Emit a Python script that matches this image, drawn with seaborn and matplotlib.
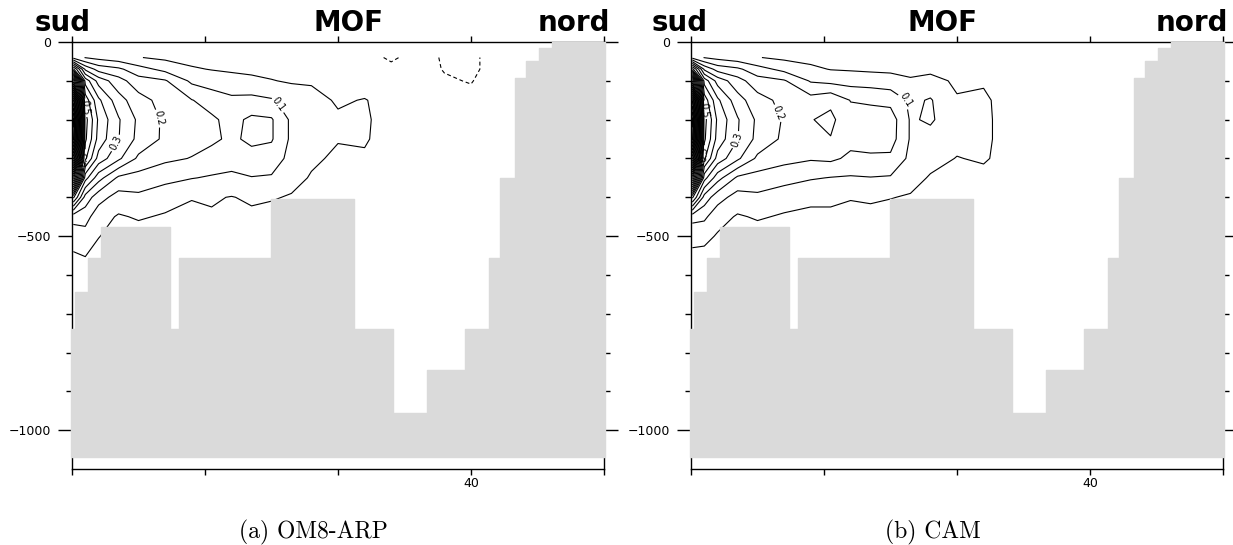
import numpy as np
import matplotlib
matplotlib.use("Agg")
import matplotlib.pyplot as plt
import seaborn as sns

# ---------------- data ----------------
# grid of the overturning function: latitude columns and depth rows (m)
lat = [10.1, 11, 12, 13.5, 15, 17, 19, 20.5, 22, 23.5, 25, 26.5, 28, 30, 32, 34, 36, 38, 40, 42, 45, 50]
depth = [40, 70, 100, 150, 200, 250, 300, 350, 400, 450, 500, 560, 700, 1100]

# panel (a) OM8-ARP : one column (top -> bottom) per latitude
mof_a = [
    [0.13, 0.46, 0.92, 1.42, 1.62, 1.57, 1.27, 0.82, 0.36, 0.12, 0.07, 0.04, 0.02, 0.02],
    [0.098, 0.24, 0.38, 0.48, 0.52, 0.51, 0.46, 0.32, 0.18, 0.12, 0.08, 0.046, 0.02, 0.02],
    [0.085, 0.18, 0.28, 0.36, 0.39, 0.38, 0.33, 0.22, 0.12, 0.07, 0.052, 0.03, 0.02, 0.02],
    [0.07, 0.16, 0.22, 0.27, 0.305, 0.302, 0.26, 0.14, 0.08, 0.045, 0.03, 0.03, 0.02, 0.02],
    [0.052, 0.12, 0.17, 0.22, 0.24, 0.235, 0.19, 0.13, 0.09, 0.055, 0.03, 0.03, 0.02, 0.02],
    [0.04, 0.085, 0.155, 0.18, 0.19, 0.19, 0.16, 0.115, 0.07, 0.045, 0.03, 0.03, 0.02, 0.02],
    [0.035, 0.055, 0.09, 0.152, 0.17, 0.168, 0.148, 0.102, 0.052, 0.04, 0.035, 0.03, 0.02, 0.02],
    [0.03, 0.048, 0.075, 0.13, 0.158, 0.16, 0.13, 0.095, 0.055, 0.045, 0.04, 0.02, 0.02, 0.02],
    [0.03, 0.042, 0.07, 0.11, 0.135, 0.14, 0.12, 0.09, 0.048, 0.04, 0.04, 0.02, 0.02, 0.02],
    [0.03, 0.04, 0.06, 0.115, 0.16, 0.162, 0.13, 0.098, 0.058, 0.04, 0.035, 0.02, 0.02, 0.02],
    [0.03, 0.037, 0.052, 0.105, 0.155, 0.155, 0.125, 0.095, 0.055, 0.03, 0.03, 0.02, 0.02, 0.02],
    [0.03, 0.035, 0.045, 0.08, 0.09, 0.09, 0.085, 0.07, 0.045, 0.03, 0.03, 0.02, 0.02, 0.02],
    [0.025, 0.03, 0.045, 0.065, 0.07, 0.07, 0.06, 0.045, 0.03, 0.02, 0.02, 0.02, 0.02, 0.02],
    [0.02, 0.025, 0.035, 0.045, 0.056, 0.053, 0.04, 0.03, 0.025, 0.02, 0.02, 0.02, 0.02, 0.02],
    [0.015, 0.02, 0.03, 0.052, 0.055, 0.054, 0.045, 0.03, 0.025, 0.02, 0.02, 0.02, 0.02, 0.02],
    [-0.006, 0.01, 0.02, 0.035, 0.035, 0.033, 0.03, 0.025, 0.02, 0.02, 0.02, 0.02, 0.02, 0.02],
    [0.015, 0.015, 0.02, 0.025, 0.025, 0.025, 0.025, 0.025, 0.02, 0.02, 0.02, 0.02, 0.02, 0.02],
    [-0.004, -0.002, 0.004, 0.02, 0.02, 0.02, 0.02, 0.02, 0.02, 0.02, 0.02, 0.02, 0.02, 0.02],
    [-0.01, -0.01, -0.002, 0.01, 0.015, 0.015, 0.015, 0.015, 0.015, 0.015, 0.015, 0.02, 0.02, 0.02],
    [0.02, 0.02, 0.02, 0.02, 0.02, 0.02, 0.02, 0.02, 0.02, 0.02, 0.02, 0.02, 0.02, 0.02],
    [0.02, 0.02, 0.02, 0.02, 0.02, 0.02, 0.02, 0.02, 0.02, 0.02, 0.02, 0.02, 0.02, 0.02],
    [0.02, 0.02, 0.02, 0.02, 0.02, 0.02, 0.02, 0.02, 0.02, 0.02, 0.02, 0.02, 0.02, 0.02],
]

# panel (b) CAM
mof_b = [
    [0.13, 0.47, 0.95, 1.45, 1.62, 1.57, 1.27, 0.82, 0.36, 0.12, 0.06, 0.04, 0.02, 0.02],
    [0.098, 0.24, 0.38, 0.48, 0.52, 0.51, 0.46, 0.32, 0.18, 0.11, 0.065, 0.03, 0.02, 0.02],
    [0.085, 0.18, 0.28, 0.36, 0.39, 0.38, 0.33, 0.22, 0.12, 0.07, 0.045, 0.03, 0.02, 0.02],
    [0.07, 0.16, 0.22, 0.27, 0.305, 0.302, 0.26, 0.14, 0.08, 0.045, 0.03, 0.03, 0.02, 0.02],
    [0.052, 0.12, 0.17, 0.22, 0.24, 0.235, 0.19, 0.13, 0.09, 0.055, 0.03, 0.03, 0.02, 0.02],
    [0.04, 0.085, 0.155, 0.185, 0.195, 0.19, 0.165, 0.12, 0.07, 0.045, 0.03, 0.03, 0.02, 0.02],
    [0.035, 0.06, 0.095, 0.17, 0.198, 0.188, 0.155, 0.105, 0.055, 0.045, 0.035, 0.03, 0.02, 0.02],
    [0.03, 0.048, 0.085, 0.19, 0.21, 0.198, 0.16, 0.098, 0.055, 0.045, 0.04, 0.02, 0.02, 0.02],
    [0.03, 0.045, 0.08, 0.148, 0.17, 0.165, 0.14, 0.095, 0.052, 0.04, 0.04, 0.02, 0.02, 0.02],
    [0.03, 0.042, 0.075, 0.145, 0.165, 0.163, 0.145, 0.098, 0.055, 0.04, 0.035, 0.02, 0.02, 0.02],
    [0.03, 0.04, 0.07, 0.135, 0.175, 0.172, 0.14, 0.095, 0.052, 0.03, 0.03, 0.02, 0.02, 0.02],
    [0.03, 0.038, 0.055, 0.09, 0.095, 0.095, 0.088, 0.07, 0.045, 0.03, 0.03, 0.02, 0.02, 0.02],
    [0.025, 0.035, 0.07, 0.104, 0.106, 0.085, 0.068, 0.045, 0.03, 0.02, 0.02, 0.02, 0.02, 0.02],
    [0.02, 0.025, 0.04, 0.055, 0.07, 0.065, 0.048, 0.035, 0.025, 0.02, 0.02, 0.02, 0.02, 0.02],
    [0.015, 0.02, 0.045, 0.058, 0.06, 0.06, 0.056, 0.035, 0.025, 0.02, 0.02, 0.02, 0.02, 0.02],
    [0.01, 0.015, 0.02, 0.03, 0.03, 0.03, 0.03, 0.025, 0.02, 0.02, 0.02, 0.02, 0.02, 0.02],
    [0.015, 0.015, 0.02, 0.025, 0.025, 0.025, 0.025, 0.025, 0.02, 0.02, 0.02, 0.02, 0.02, 0.02],
    [0.01, 0.012, 0.015, 0.02, 0.02, 0.02, 0.02, 0.02, 0.02, 0.02, 0.02, 0.02, 0.02, 0.02],
    [0.01, 0.01, 0.015, 0.015, 0.015, 0.015, 0.015, 0.015, 0.015, 0.015, 0.015, 0.02, 0.02, 0.02],
    [0.02, 0.02, 0.02, 0.02, 0.02, 0.02, 0.02, 0.02, 0.02, 0.02, 0.02, 0.02, 0.02, 0.02],
    [0.02, 0.02, 0.02, 0.02, 0.02, 0.02, 0.02, 0.02, 0.02, 0.02, 0.02, 0.02, 0.02, 0.02],
    [0.02, 0.02, 0.02, 0.02, 0.02, 0.02, 0.02, 0.02, 0.02, 0.02, 0.02, 0.02, 0.02, 0.02],
]

# bathymetry (same model grid in both panels): step edges and top depth of each step
bathy_edges = [9.96, 10.26, 11.2, 12.2, 17.37, 18.05, 24.96, 31.2, 34.14, 36.69, 39.55,
               41.35, 42.18, 43.3, 44.14, 45.11, 46.09, 50.1]
bathy_top = [740, 644, 557, 477, 740, 557, 405, 740, 957, 845, 740, 557, 350, 93, 49, 15, 0]
bathy_floor = 1070

label_levels = [0.1, 0.2, 0.3, 0.4, 0.5]
other_levels = [round(0.05 * k, 2) for k in range(1, 34) if round(0.05 * k, 2) not in label_levels]
xtick_values = [10, 20, 30, 40, 50]
xtick_labels = ["", "", "", "40", ""]
ytick_values = [0, -500, -1000]
ytick_labels = ["0", "\u2212500", "\u22121000"]
ytick_minor = [-100, -200, -300, -400, -600, -700, -800, -900]

titles = ["sud", "MOF", "nord"]
captions = ["(a) OM8-ARP", "(b) CAM"]

# label anchor points (data coords) for the contour labels in each panel
label_pos_a = [(10.6, -170), (10.9, -300), (13.4, -262), (16.3, -200), (25.6, -160)]
label_pos_b = [(10.8, -175), (11.0, -290), (13.5, -253), (16.8, -180), (26.2, -150)]

# ---------------- styling ----------------
sns.set_theme(style="ticks", rc={"axes.edgecolor": "black", "xtick.color": "black",
                                 "ytick.color": "black", "axes.linewidth": 1.0,
                                 "text.color": "black", "axes.labelcolor": "black"})
plt.rcParams["font.family"] = ["DejaVu Sans"]

W, H = 1233, 545
fig = plt.figure(figsize=(W / 100, H / 100), dpi=100)
fig.patch.set_facecolor("white")

GREY = "#dadada"
ax_left_px = [72, 691]
ax_w_px = 532
ax_top_px, ax_bot_px = 42, 469


def draw_panel(ax, cols, label_pos):
    Z = np.array(cols, dtype=float).T
    X, Y = np.meshgrid(lat, -np.array(depth, dtype=float))
    ax.contour(X, Y, Z, levels=other_levels, colors="black", linewidths=0.8, zorder=1)
    cs = ax.contour(X, Y, Z, levels=label_levels, colors="black", linewidths=0.8, zorder=1)
    if (Z < 0).any():
        ax.contour(X, Y, Z, levels=[0.0], colors="black", linewidths=0.8,
                   linestyles=[(0, (3.5, 2.5))], zorder=1)
    texts = ax.clabel(cs, manual=label_pos, fmt="%.1f", colors="black",
                      fontsize=7, inline=True, inline_spacing=2)
    for t in texts:
        t.set_zorder(4)
    ys = [-t for t in bathy_top] + [-bathy_top[-1]]
    ax.fill_between(bathy_edges, ys, -bathy_floor, step="post", facecolor=GREY,
                    edgecolor=GREY, linewidth=1.0, zorder=3, clip_on=False)

    ax.set_xlim(10, 50)
    ax.set_ylim(-1100, 0)
    ax.set_xticks(xtick_values)
    ax.set_xticklabels(xtick_labels)
    ax.set_yticks(ytick_values)
    ax.set_yticklabels(ytick_labels)
    ax.set_yticks(ytick_minor, minor=True)
    ax.tick_params(axis="x", which="major", direction="out", length=4, width=1.0,
                   top=True, bottom=True, labelsize=9, pad=2, labelcolor="black")
    ax.tick_params(axis="y", which="major", direction="out", length=10, width=1.0,
                   left=True, right=True, labelsize=9, pad=5, labelcolor="black")
    ax.tick_params(axis="y", which="minor", direction="out", length=4, width=1.0,
                   left=True, right=True)
    for s in ax.spines.values():
        s.set_visible(True)
        s.set_color("black")
        s.set_linewidth(1.0)
        s.set_zorder(2.5)
    ax.set_facecolor("white")
    ax.grid(False)


for i, (cols, lp) in enumerate([(mof_a, label_pos_a), (mof_b, label_pos_b)]):
    ax = fig.add_axes([ax_left_px[i] / W, 1 - ax_bot_px / H, ax_w_px / W,
                       (ax_bot_px - ax_top_px) / H])
    draw_panel(ax, cols, lp)

# panel headings
head_y = 1 - 31 / H
heads = [
    (35, "left", titles[0]), (348, "center", titles[1]), (610, "right", titles[2]),
    (652, "left", titles[0]), (942, "center", titles[1]), (1228, "right", titles[2]),
]
for xp, ha, txt in heads:
    fig.text(xp / W, head_y, txt, ha=ha, va="baseline", fontsize=20, color="black",
             fontweight="bold", family=["DejaVu Sans"])

# captions
for xp, txt in zip([313, 933], captions):
    fig.text(xp / W, 1 - 538 / H, txt, ha="center", va="baseline", fontsize=17,
             color="black", family=["cmr10", "DejaVu Serif"])

fig.savefig("out.png", dpi=100, facecolor="white")
